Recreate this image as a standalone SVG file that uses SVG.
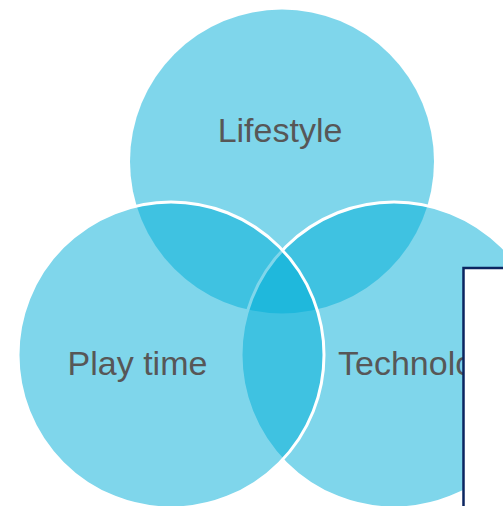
<svg xmlns="http://www.w3.org/2000/svg" width="503" height="506" viewBox="0 0 503 506">
  <style>
    .set { fill: #00ADD8; fill-opacity: 0.5; }
    .edge { stroke: #ffffff; stroke-width: 3; }
    .label { font-family: "Liberation Sans", Arial, sans-serif; font-size: 34px; fill: #575757; }
  </style>
  <rect width="503" height="506" fill="#ffffff"/>
  <!-- three overlapping sets; the top one has no outline -->
  <g id="lifestyle">
    <circle class="set" cx="282" cy="161.5" r="152"/>
  </g>
  <g id="technology">
    <circle class="set edge" cx="394" cy="355" r="153"/>
  </g>
  <g id="play-time">
    <circle class="set edge" cx="171" cy="355" r="153"/>
  </g>
  <g id="labels">
    <text class="label" x="280" y="142" text-anchor="middle">Lifestyle</text>
    <text class="label" x="137.5" y="375" text-anchor="middle">Play time</text>
    <text class="label" x="338" y="375">Technology</text>
  </g>
  <!-- panel lying over the right-hand corner -->
  <g id="panel">
    <rect x="463.5" y="268" width="60" height="260" fill="#ffffff" stroke="#0b2560" stroke-width="2.5"/>
  </g>
</svg>
